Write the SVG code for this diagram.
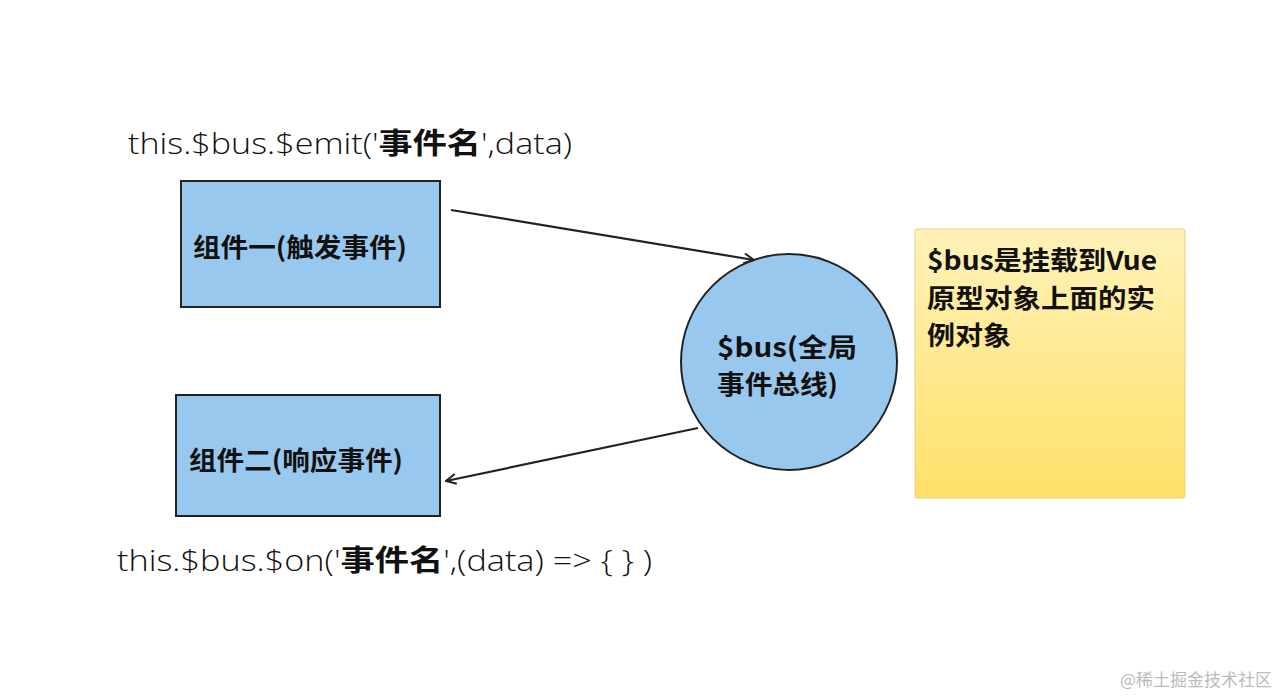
<svg xmlns="http://www.w3.org/2000/svg" width="1285" height="696" viewBox="0 0 1285 696">
<style>
.box{fill:#99c8ee;stroke:#222;stroke-width:2}
.lbl{font-family:"Noto Sans CJK SC","Liberation Sans",sans-serif;font-weight:bold;font-size:26px;fill:#111}
.code{font-family:"Open Sans","Noto Sans CJK SC",sans-serif;font-size:29px;fill:#111;font-weight:300}
.code tspan.b{font-family:"Noto Sans CJK SC",sans-serif;font-weight:bold}
.conn{stroke:#222;stroke-width:2.2;fill:none;marker-end:url(#arr)}
.wm{font-family:"Noto Sans CJK SC",sans-serif;font-size:17px;fill:#bbb}
</style>
<defs>
<marker id="arr" viewBox="0 0 12 12" refX="11" refY="6" markerWidth="12" markerHeight="12" markerUnits="userSpaceOnUse" orient="auto">
<path d="M1,1 L11,6 L1,11" fill="none" stroke="#222" stroke-width="2"/>
</marker>
<linearGradient id="ng" x1="0" y1="0" x2="0" y2="1">
<stop offset="0" stop-color="#fff2b8"/>
<stop offset="1" stop-color="#ffe068"/>
</linearGradient>
</defs>
<rect width="1285" height="696" fill="#fff"/>
<g id="code-emit"><text class="code" x="128" y="154" textLength="444" lengthAdjust="spacingAndGlyphs">this.$bus.$emit('<tspan class="b">事件名</tspan>',data)</text></g>
<g id="code-on"><text class="code" x="117" y="571" textLength="535" lengthAdjust="spacingAndGlyphs">this.$bus.$on('<tspan class="b">事件名</tspan>',(data) =&gt; { } )</text></g>
<g id="node-comp1">
<rect class="box" x="181" y="181" width="259" height="126"/>
<text class="lbl" x="193" y="257" textLength="214" lengthAdjust="spacingAndGlyphs">组件一(触发事件)</text>
</g>
<g id="node-comp2">
<rect class="box" x="176" y="395" width="264" height="121"/>
<text class="lbl" x="189" y="470" textLength="214" lengthAdjust="spacingAndGlyphs">组件二(响应事件)</text>
</g>
<g id="node-bus">
<circle class="box" cx="789" cy="362" r="108"/>
<text class="lbl" x="717" y="357" textLength="140" lengthAdjust="spacingAndGlyphs">$bus(全局</text>
<text class="lbl" x="717" y="394" textLength="121" lengthAdjust="spacingAndGlyphs">事件总线)</text>
</g>
<g id="node-note">
<rect x="915" y="229" width="270" height="269" rx="2" fill="url(#ng)" stroke="#e3cf86" stroke-width="1"/>
<text class="lbl" x="927" y="270" textLength="230" lengthAdjust="spacingAndGlyphs">$bus是挂载到Vue</text>
<text class="lbl" x="927" y="308" textLength="228" lengthAdjust="spacingAndGlyphs">原型对象上面的实</text>
<text class="lbl" x="927" y="345" textLength="84" lengthAdjust="spacingAndGlyphs">例对象</text>
</g>
<g id="connectors">
<line class="conn" x1="451" y1="210" x2="754" y2="260"/>
<line class="conn" x1="698" y1="428" x2="446" y2="481"/>
</g>
<text class="wm" x="1120" y="686">@稀土掘金技术社区</text>
</svg>
